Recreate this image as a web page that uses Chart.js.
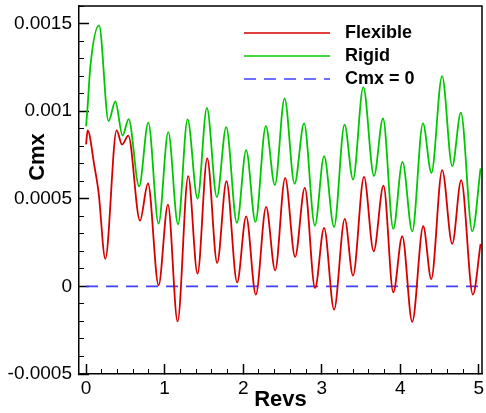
<!DOCTYPE html>
<html>
<head>
<meta charset="utf-8">
<script src="https://cdn.jsdelivr.net/npm/chart.js@4.4.1/dist/chart.umd.min.js"></script>
<style>
  html, body { margin: 0; padding: 0; background: #fff; }
  #chart { display: block; }
</style>
</head>
<body>
<canvas id="chart" width="486" height="413"></canvas>
<script>
// Cmx history over 5 revs, flexible vs rigid
const flexibleRevs = [0, 0.02, 0.106, 0.16, 0.245, 0.389, 0.458, 0.538, 0.686, 0.788,
    0.923, 1.042, 1.165, 1.300, 1.419, 1.542, 1.669, 1.787, 1.923, 2.038,
    2.161, 2.292, 2.407, 2.534, 2.661, 2.784, 2.915, 3.030, 3.157, 3.293,
    3.398, 3.538, 3.661, 3.786, 3.911, 4.025, 4.152, 4.292, 4.394, 4.533,
    4.661, 4.775, 4.924, 5.022];
const flexibleCmx = [0.00081, 0.00089, 0.000686, 0.000534, 0.000157, 0.00089, 0.00081, 0.00086, 0.000375, 0.000587,
    0.000006, 0.000467, -0.0002, 0.000629, 0.000073, 0.00073, 0.000134, 0.0006, 0.000023, 0.0004,
    -0.000047, 0.000454, 0.000091, 0.000619, 0.000168, 0.000562, -0.000009, 0.000334, -0.000133, 0.000385,
    0.000061, 0.000625, 0.0002, 0.000575, -0.000034, 0.000286, -0.000203, 0.000343, 0.000042, 0.000663,
    0.000242, 0.000606, -0.000047, 0.000242];

const rigidRevs = [0, 0.02, 0.055, 0.165, 0.287, 0.372, 0.465, 0.542, 0.675, 0.792,
    0.923, 1.046, 1.170, 1.292, 1.419, 1.538, 1.665, 1.784, 1.920, 2.038,
    2.156, 2.288, 2.403, 2.527, 2.654, 2.775, 2.913, 3.030, 3.157, 3.290,
    3.398, 3.529, 3.665, 3.780, 3.911, 4.028, 4.152, 4.288, 4.396, 4.532,
    4.661, 4.771, 4.917, 5.022];
const rigidCmx = [0.000914, 0.001029, 0.001257, 0.00149, 0.000943, 0.001055, 0.000861, 0.000955, 0.000571, 0.000934,
    0.000358, 0.00088, 0.000354, 0.000953, 0.000501, 0.001019, 0.000509, 0.000909, 0.000362, 0.000777,
    0.000368, 0.000914, 0.000578, 0.001073, 0.000585, 0.00093, 0.000347, 0.000743, 0.000339, 0.000923,
    0.00061, 0.001137, 0.00063, 0.000958, 0.000328, 0.00071, 0.000314, 0.00093, 0.000648, 0.0012,
    0.000686, 0.000991, 0.000314, 0.000673];

const zeroRevs = [0, 5];
const zeroCmx = [0, 0];

const seriesLabels = ['Flexible', 'Rigid', 'Cmx = 0'];

const xMajorTicks = [0, 1, 2, 3, 4, 5];
const yMajorTicks = [-0.0005, 0, 0.0005, 0.001, 0.0015];

const FONT = '"Liberation Sans", Arial, Helvetica, sans-serif';

function range(start, stop, step) {
    const out = [];
    for (let i = 0; start + i * step <= stop + step / 1000; i++) {
        out.push(+(start + i * step).toFixed(6));
    }
    return out;
}
const xMinorTicks = range(0, 5, 0.2);
const yMinorTicks = range(-0.0005, 0.0016, 0.0001);

const toPoints = (xs, ys) => xs.map((x, i) => ({ x: x, y: ys[i] }));
const setTicks = (values) => (scale) => {
    scale.ticks = values.map(v => ({ value: v }));
};

// top + right sides of the box
const framePlugin = {
    id: 'frame',
    afterDraw(chart) {
        const { ctx, chartArea: a } = chart;
        ctx.save();
        ctx.strokeStyle = '#000';
        ctx.lineWidth = 1.5;
        ctx.beginPath();
        ctx.moveTo(a.left, a.top);
        ctx.lineTo(a.right, a.top);
        ctx.lineTo(a.right, a.bottom);
        ctx.stroke();
        ctx.restore();
    }
};

// legend sits inside the plot, top right
const legendPlugin = {
    id: 'innerLegend',
    afterDraw(chart) {
        const ctx = chart.ctx;
        const rows = [33, 56, 79];
        ctx.save();
        chart.data.datasets.forEach((ds, i) => {
            const y = rows[i];
            ctx.strokeStyle = ds.borderColor;
            ctx.lineWidth = 1.6;
            ctx.setLineDash(ds.borderDash || []);
            ctx.beginPath();
            ctx.moveTo(244, y);
            ctx.lineTo(330, y);
            ctx.stroke();
            ctx.setLineDash([]);
            ctx.fillStyle = '#000';
            ctx.font = 'bold 18px ' + FONT;
            ctx.textAlign = 'left';
            ctx.textBaseline = 'middle';
            ctx.fillText(ds.label, 345, y + 0.5);
        });
        ctx.restore();
    }
};

const yTitlePlugin = {
    id: 'yTitle',
    afterDraw(chart) {
        const ctx = chart.ctx;
        ctx.save();
        ctx.translate(38, 157);
        ctx.rotate(-Math.PI / 2);
        ctx.fillStyle = '#000';
        ctx.font = 'bold 22px ' + FONT;
        ctx.textAlign = 'center';
        ctx.textBaseline = 'middle';
        ctx.fillText('Cmx', 0, 0);
        ctx.restore();
    }
};

const canvas = document.getElementById('chart');
const ctx = canvas.getContext('2d');

new Chart(ctx, {
    type: 'line',
    data: {
        datasets: [
            {
                label: seriesLabels[0],
                data: toPoints(flexibleRevs, flexibleCmx),
                borderColor: 'rgb(215, 0, 0)',
                borderWidth: 1.8,
                cubicInterpolationMode: 'monotone',
                pointRadius: 0,
                fill: false
            },
            {
                label: seriesLabels[1],
                data: toPoints(rigidRevs, rigidCmx),
                borderColor: 'rgb(0, 200, 0)',
                borderWidth: 1.8,
                cubicInterpolationMode: 'monotone',
                pointRadius: 0,
                fill: false
            },
            {
                label: seriesLabels[2],
                data: toPoints(zeroRevs, zeroCmx),
                borderColor: 'rgb(64, 64, 255)',
                borderWidth: 1.8,
                borderDash: [12, 8],
                pointRadius: 0,
                fill: false
            }
        ]
    },
    options: {
        responsive: false,
        animation: false,
        layout: {
            padding: { top: 6, right: 4, left: 0, bottom: 0 }
        },
        plugins: {
            legend: { display: false },
            tooltip: { enabled: false }
        },
        scales: {
            x: {
                type: 'linear',
                position: 'bottom',
                weight: 1,
                min: -0.09,
                max: 5.04,
                afterBuildTicks: setTicks(xMajorTicks),
                afterFit: (scale) => {
                    scale.height = 39;
                    scale.paddingLeft = 0;
                    scale.paddingRight = 0;
                },
                border: { display: true, color: '#000', width: 1.5 },
                grid: {
                    drawOnChartArea: false,
                    drawTicks: true,
                    tickLength: -10,
                    tickWidth: 1.5,
                    tickColor: '#000'
                },
                ticks: {
                    autoSkip: false,
                    maxRotation: 0,
                    padding: 13,
                    color: '#000',
                    font: { family: FONT, size: 19 },
                    callback: (v) => String(v)
                },
                title: {
                    display: true,
                    text: 'Revs',
                    color: '#000',
                    padding: { top: 0, bottom: 0 },
                    font: { family: FONT, size: 22, weight: 'bold' }
                }
            },
            xMinor: {
                type: 'linear',
                position: 'bottom',
                weight: 0,
                min: -0.09,
                max: 5.04,
                afterBuildTicks: setTicks(xMinorTicks),
                afterFit: (scale) => {
                    scale.height = 0;
                    scale.paddingLeft = 0;
                    scale.paddingRight = 0;
                },
                border: { display: false },
                grid: {
                    drawOnChartArea: false,
                    drawTicks: true,
                    tickLength: -5,
                    tickWidth: 1,
                    tickColor: '#000'
                },
                ticks: { display: false }
            },
            y: {
                type: 'linear',
                position: 'left',
                weight: 1,
                min: -0.0005,
                max: 0.0016,
                afterBuildTicks: setTicks(yMajorTicks),
                afterFit: (scale) => {
                    scale.width = 79;
                    scale.paddingTop = 0;
                    scale.paddingBottom = 0;
                },
                border: { display: true, color: '#000', width: 1.5 },
                grid: {
                    drawOnChartArea: false,
                    drawTicks: true,
                    tickLength: -10,
                    tickWidth: 1.5,
                    tickColor: '#000'
                },
                ticks: {
                    autoSkip: false,
                    padding: 17,
                    color: '#000',
                    font: { family: FONT, size: 19 },
                    callback: (v) => String(v)
                }
            },
            yMinor: {
                type: 'linear',
                position: 'left',
                weight: 0,
                min: -0.0005,
                max: 0.0016,
                afterBuildTicks: setTicks(yMinorTicks),
                afterFit: (scale) => {
                    scale.width = 0;
                    scale.paddingTop = 0;
                    scale.paddingBottom = 0;
                },
                border: { display: false },
                grid: {
                    drawOnChartArea: false,
                    drawTicks: true,
                    tickLength: -5,
                    tickWidth: 1,
                    tickColor: '#000'
                },
                ticks: { display: false }
            }
        }
    },
    plugins: [framePlugin, legendPlugin, yTitlePlugin]
});
</script>
</body>
</html>
